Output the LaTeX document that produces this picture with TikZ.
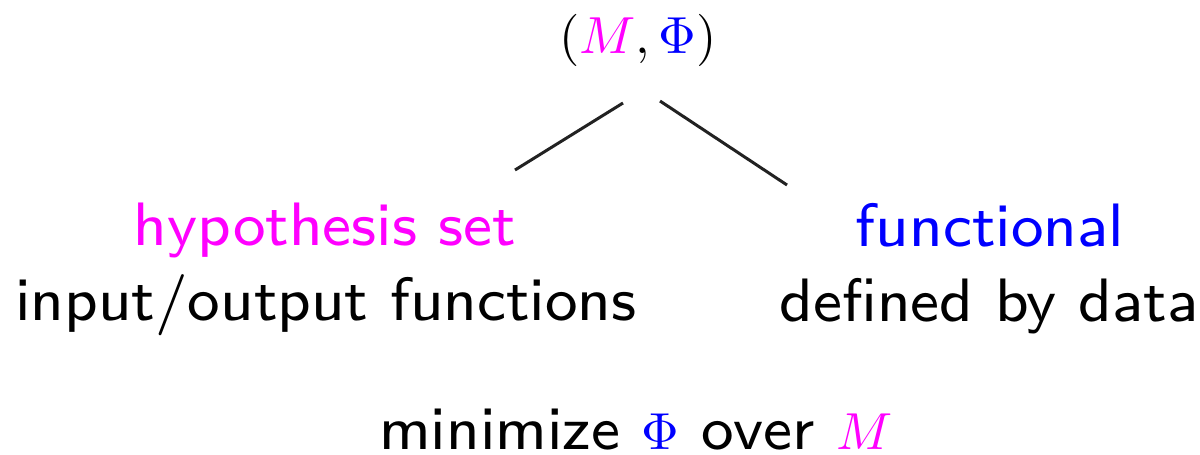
\documentclass[tikz,border=0pt]{standalone}
\usepackage{xcolor}
\definecolor{mag}{RGB}{255,0,255}
\definecolor{blu}{RGB}{0,0,255}
\definecolor{ln}{RGB}{34,34,34}
\newcommand{\smallmath}[1]{{\fontsize{10}{12}\selectfont\scalebox{0.68}{$#1$}}}
\begin{document}
\begin{tikzpicture}[x=0.02cm,y=-0.02cm,
  lbl/.style={inner sep=0pt,anchor=base,scale=4.36,transform shape,font=\fontsize{8}{10}\selectfont\sffamily},
  mlbl/.style={inner sep=0pt,anchor=base,scale=2.97,transform shape,font=\fontsize{10}{12}\selectfont},
  conn/.style={draw=ln,line width=1.7pt}]
\useasboundingbox (0,0) rectangle (1200,454);
\node[mlbl] (top) at (638,53) {$(\textcolor{mag}{M},\textcolor{blu}{\Phi})$};
\node[lbl,text=mag] (hyp) at (325,245) {hypothesis set};
\node[lbl] (io) at (326,320) {input/output functions};
\node[lbl,text=blu] (fun) at (990,246) {functional};
\node[lbl] (def) at (989,321) {defined by data};
\node[lbl] (min) at (636,449) {minimize \smallmath{\textcolor{blu}{\Phi}} over \smallmath{\textcolor{mag}{M}}};
\coordinate (a1) at (623,103);
\coordinate (a2) at (515,170);
\coordinate (b1) at (660,101);
\coordinate (b2) at (787,185);
\draw[conn] (a1) -- (a2);
\draw[conn] (b1) -- (b2);
\end{tikzpicture}
\end{document}
